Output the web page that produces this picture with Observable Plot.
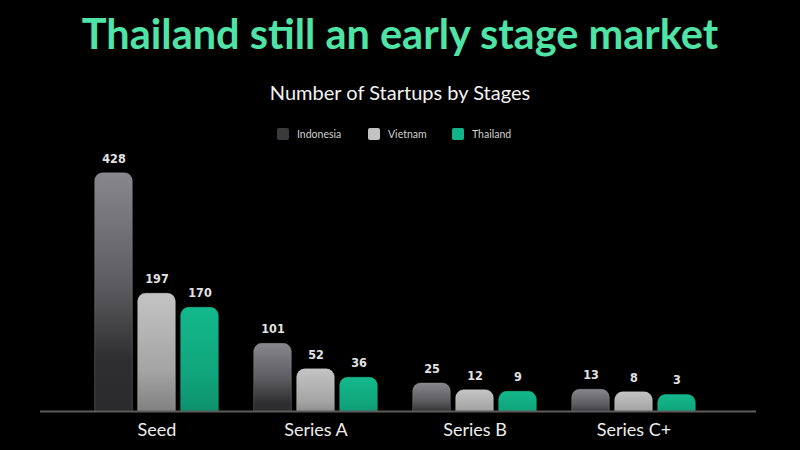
<!DOCTYPE html>
<html>
<head>
<meta charset="utf-8">
<script src="https://cdn.jsdelivr.net/npm/d3@7"></script>
<script src="https://cdn.jsdelivr.net/npm/@observablehq/plot@0.6"></script>
<style>
  html, body { margin: 0; padding: 0; background: #000; }
  #wrap { position: relative; width: 800px; height: 450px; overflow: hidden; background: #000; font-family: Lato, "Open Sans", sans-serif; }
  #title { position: absolute; left: 0; width: 800px; top: 8px; text-align: center; color: #4fe3a5; font-size: 41.5px; font-weight: 700; }
  #subtitle { position: absolute; left: 0; width: 800px; top: 80px; text-align: center; color: #f2f2f2; font-size: 20px; }
  .lg { position: absolute; top: 127px; height: 13px; display: flex; align-items: center; font-size: 10.5px; color: #d0d0d0; }
  .sw { width: 12px; height: 12px; border-radius: 2px; margin-right: 8px; }
  #chart { position: absolute; left: 0; top: 140px; }
  #chart g[aria-label="text"] text { font-stretch: condensed; }
</style>
</head>
<body>
<div id="wrap">
  <div id="title">Thailand still an early stage market</div>
  <div id="subtitle">Number of Startups by Stages</div>
  <div id="legend"></div>
  <div id="chart"></div>
</div>
<script>
const stages = ["Seed", "Series A", "Series B", "Series C+"];
const countries = ["Indonesia", "Vietnam", "Thailand"];
const indonesia = [428, 101, 25, 13];
const vietnam = [197, 52, 12, 8];
const thailand = [170, 36, 9, 3];

const series = [indonesia, vietnam, thailand];
const rows = countries.flatMap((c, i) => stages.map((s, j) => ({country: c, stage: s, value: series[i][j]})));

const swatch = ["#3a3a3c", "#c2c2c2", "#12b386"];
const legendLeft = [277, 368, 452];
const legend = document.getElementById("legend");
countries.forEach((c, i) => {
  const el = document.createElement("div");
  el.className = "lg";
  el.style.left = legendLeft[i] + "px";
  el.innerHTML = `<div class="sw" style="background:${swatch[i]}"></div><span>${c}</span>`;
  legend.appendChild(el);
});

const offsets = [-43, 0, 43];
const marks = [];
countries.forEach((c, i) => {
  const data = rows.filter(d => d.country === c);
  marks.push(Plot.barY(data, {
    x: "stage", y: "value", fill: `url(#grad${i})`,
    stroke: ["#9a9a9e", "#dcdcdc", "#2fd0a0"][i], strokeOpacity: 0.35, strokeWidth: 1,
    dx: offsets[i], insetLeft: 60.7, insetRight: 60.7, insetTop: -15, insetBottom: -12,
    rx: 8, clip: true
  }));
  marks.push(Plot.text(data, {
    x: "stage", y: "value", text: d => String(d.value), dx: offsets[i], dy: -29.5,
    fill: "#e2e2e2", fontSize: 12.5, fontWeight: "bold", fontFamily: "'DejaVu Sans', sans-serif"
  }));
});
marks.push(Plot.ruleY([0], {stroke: "#5c5c5c", strokeWidth: 2}));

const svg = Plot.plot({
  width: 800,
  height: 310,
  marginLeft: 40,
  marginRight: 44,
  marginTop: 31,
  marginBottom: 39,
  style: {background: "transparent", color: "#eeeeee", fontSize: "18px", fontFamily: "Lato, 'Open Sans', sans-serif"},
  x: {domain: stages, padding: 0, insetLeft: 36.3, insetRight: 42.3, tickSize: 0, tickPadding: 12, label: null},
  y: {domain: [0, 460], axis: null},
  marks
});

d3.select(svg).insert("defs", ":first-child").html(`
  <linearGradient id="grad0" x1="0" y1="0" x2="0" y2="1">
    <stop offset="0" stop-color="#88888c"/>
    <stop offset="0.45" stop-color="#5c5c60"/>
    <stop offset="0.75" stop-color="#2e2e30"/>
    <stop offset="1" stop-color="#2a2a2c"/>
  </linearGradient>
  <linearGradient id="grad1" x1="0" y1="0" x2="0" y2="1">
    <stop offset="0" stop-color="#c4c4c4"/>
    <stop offset="0.6" stop-color="#a4a4a4"/>
    <stop offset="1" stop-color="#767676"/>
  </linearGradient>
  <linearGradient id="grad2" x1="0" y1="0" x2="0" y2="1">
    <stop offset="0" stop-color="#13b98b"/>
    <stop offset="0.6" stop-color="#10a47b"/>
    <stop offset="1" stop-color="#0c8a68"/>
  </linearGradient>
`);
document.getElementById("chart").appendChild(svg);
</script>
</body>
</html>
